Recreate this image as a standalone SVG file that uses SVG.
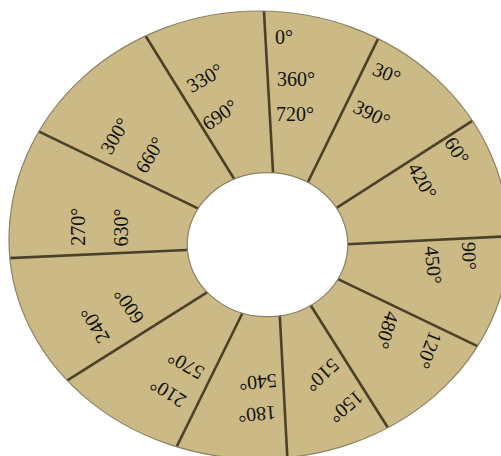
<svg xmlns="http://www.w3.org/2000/svg" width="501" height="456" viewBox="0 0 501 456">
<style>
.ring{fill:#cbba86;stroke:none}
.edge{fill:none;stroke:#8c8163;stroke-width:1.2}
.hole{fill:#ffffff;stroke:#8c8163;stroke-width:1.2}
.div line{stroke:#4a4128;stroke-width:2.6;stroke-linecap:butt}
text{font-family:"Liberation Serif","Times New Roman",serif;font-size:20px;fill:#111;text-anchor:middle}
</style>
<defs>
<clipPath id="clipOuter"><path d="M 9,240 A 250 229 0 0 1 509,240 A 250 219 0 0 1 9,240 Z"/></clipPath>
</defs>
<rect width="501" height="456" fill="#ffffff"/>
<path id="ring" class="ring" d="M 9,240 A 250 229 0 0 1 509,240 A 250 219 0 0 1 9,240 Z"/>
<g id="connectors" class="div" clip-path="url(#clipOuter)">
<line x1="273.3" y1="177" x2="263.6" y2="5"/>
<line x1="305.8" y1="186.5" x2="380.6" y2="33.6"/>
<line x1="333.8" y1="209.7" x2="477" y2="117.8"/>
<line x1="347" y1="244.2" x2="515" y2="235.9"/>
<line x1="337.5" y1="278.8" x2="479.5" y2="347.2"/>
<line x1="310.3" y1="304.8" x2="390" y2="431"/>
<line x1="279.7" y1="314" x2="288" y2="470"/>
<line x1="244.2" y1="309.5" x2="174.8" y2="450.5"/>
<line x1="210.2" y1="290.3" x2="63.8" y2="382.7"/>
<line x1="192" y1="249.8" x2="4" y2="258.3"/>
<line x1="201.5" y1="210.2" x2="33.5" y2="128.8"/>
<line x1="235.6" y1="181.2" x2="142.4" y2="30.7"/>
</g>
<path class="edge" d="M 9,240 A 250 229 0 0 1 509,240 A 250 219 0 0 1 9,240 Z"/>
<ellipse id="hole" class="hole" cx="267.5" cy="244.7" rx="80.3" ry="72"/>
<g id="s0">
<text transform="translate(284,37.5)" y="6.6">0°</text>
<text transform="translate(296,79.3)" y="6.6">360°</text>
<text transform="translate(295,114.7)" y="6.6">720°</text>
</g>
<g id="s30">
<text transform="translate(386.7,73.3) rotate(22)" y="6.6">30°</text>
<text transform="translate(371.7,114) rotate(26)" y="6.6">390°</text>
</g>
<g id="s60">
<text transform="translate(456.7,150.7) rotate(57)" y="6.6">60°</text>
<text transform="translate(422.3,181) rotate(60)" y="6.6">420°</text>
</g>
<g id="s90">
<text transform="translate(469,256) rotate(88)" y="6.6">90°</text>
<text transform="translate(433,265) rotate(84)" y="6.6">450°</text>
</g>
<g id="s120">
<text transform="translate(429,350) rotate(112)" y="6.6">120°</text>
<text transform="translate(387,330) rotate(108)" y="6.6">480°</text>
</g>
<g id="s150">
<text transform="translate(346,406.5) rotate(140)" y="6.6">150°</text>
<text transform="translate(322,375) rotate(138)" y="6.6">510°</text>
</g>
<g id="s180">
<text transform="translate(257,414) rotate(175)" y="6.6">180°</text>
<text transform="translate(258,382) rotate(175)" y="6.6">540°</text>
</g>
<g id="s210">
<text transform="translate(168,392.5) rotate(212)" y="6.6">210°</text>
<text transform="translate(186,365) rotate(210)" y="6.6">570°</text>
</g>
<g id="s240">
<text transform="translate(95,325) rotate(240)" y="6.6">240°</text>
<text transform="translate(129,306) rotate(236)" y="6.6">600°</text>
</g>
<g id="s270">
<text transform="translate(78.3,226.7) rotate(270)" y="6.6">270°</text>
<text transform="translate(121.7,227.5) rotate(270)" y="6.6">630°</text>
</g>
<g id="s300">
<text transform="translate(115,136) rotate(301)" y="6.6">300°</text>
<text transform="translate(150,155) rotate(301)" y="6.6">660°</text>
</g>
<g id="s330">
<text transform="translate(205,78) rotate(330)" y="6.6">330°</text>
<text transform="translate(220,115) rotate(325)" y="6.6">690°</text>
</g>
</svg>
